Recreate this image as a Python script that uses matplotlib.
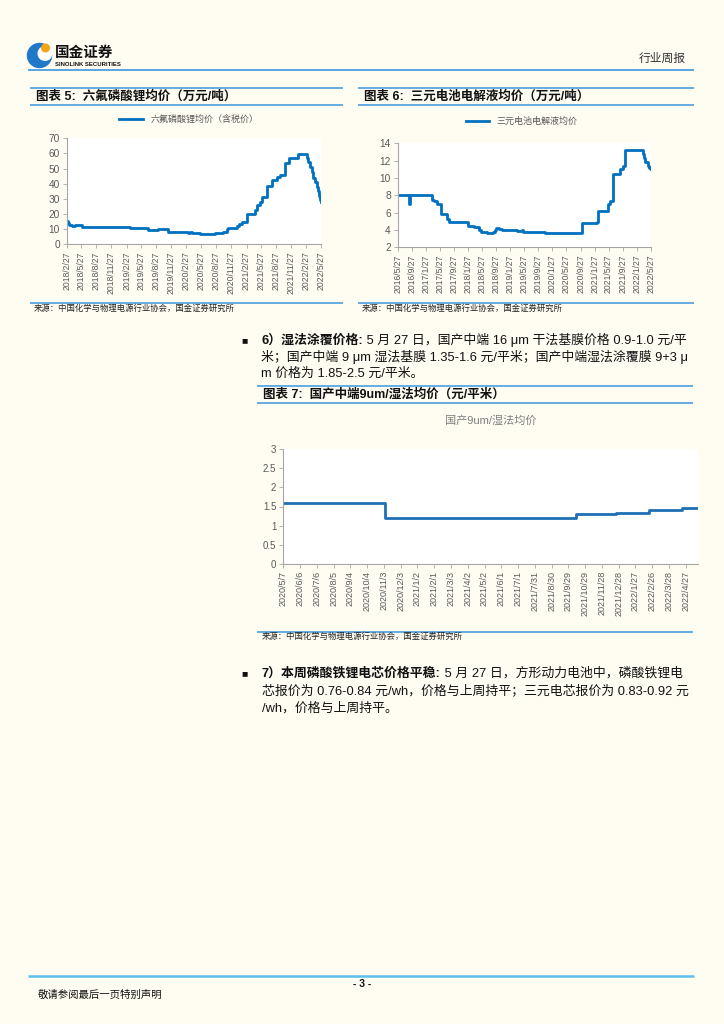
import matplotlib
matplotlib.use('Agg')
import matplotlib.pyplot as plt
from matplotlib.patches import Circle
import pandas as pd

plt.rcParams['font.family'] = ['Liberation Sans', 'Noto Sans CJK SC', 'DejaVu Sans']

BG = '#FFFCF2'
LINE_BLUE = '#0070C0'
RULE = '#4A9FE0'
GRAY = '#595959'
SPINE = '#A6A6A6'

# 图表5 六氟磷酸锂均价（万元/吨）
lipf6_dates = ['2018-02-27', '2018-03-08', '2018-03-15', '2018-03-29', '2018-04-19',
               '2018-05-29', '2019-03-20', '2019-07-09', '2019-09-08', '2019-11-08',
               '2020-03-09', '2020-03-20', '2020-04-01', '2020-05-19', '2020-08-19',
               '2020-10-08', '2020-10-29', '2020-11-08', '2020-12-29', '2021-01-15',
               '2021-01-29', '2021-03-04', '2021-04-20', '2021-05-04', '2021-05-20',
               '2021-05-31', '2021-06-30', '2021-07-30', '2021-08-30', '2021-09-19',
               '2021-10-20', '2021-11-15', '2022-01-09', '2022-03-01', '2022-03-11',
               '2022-03-21', '2022-04-01', '2022-04-10', '2022-04-20', '2022-05-01',
               '2022-05-08', '2022-05-15', '2022-05-21', '2022-05-27']
lipf6_price = [15.4, 14.0, 13.0, 12.0, 12.5,
               11.3, 10.6, 9.7, 10.2, 8.3,
               7.7, 8.3, 7.7, 7.0, 7.3,
               8.0, 10.3, 10.6, 12.1, 13.5,
               14.9, 19.8, 22.7, 26.0, 28.2,
               31.5, 38.7, 42.5, 44.3, 45.8,
               53.5, 56.8, 59.4, 57.0, 54.6,
               51.3, 47.5, 43.6, 41.0, 38.0,
               35.5, 32.0, 29.0, 28.0]
lipf6_ticks = ['2018/2/27', '2018/5/27', '2018/8/27', '2018/11/27', '2019/2/27',
               '2019/5/27', '2019/8/27', '2019/11/27', '2020/2/27', '2020/5/27',
               '2020/8/27', '2020/11/27', '2021/2/27', '2021/5/27', '2021/8/27',
               '2021/11/27', '2022/2/27', '2022/5/27']

# 图表6 三元电池电解液均价（万元/吨）
elec_dates = ['2016-05-27', '2016-09-01', '2016-09-07', '2017-03-24', '2017-04-10',
              '2017-04-30', '2017-06-06', '2017-07-25', '2017-08-17', '2018-01-29',
              '2018-03-22', '2018-05-01', '2018-05-19', '2018-07-07', '2018-08-28',
              '2018-09-15', '2018-09-28', '2018-10-20', '2018-11-14', '2019-03-24',
              '2019-05-06', '2019-05-20', '2019-11-24', '2020-10-06', '2021-02-13',
              '2021-02-25', '2021-05-25', '2021-06-10', '2021-07-02', '2021-09-03',
              '2021-09-25', '2021-10-16', '2022-03-19', '2022-03-28', '2022-04-08',
              '2022-05-01', '2022-05-15', '2022-05-27']
elec_price = [8.0, 7.0, 8.0, 7.5, 7.3,
              7.0, 5.8, 5.3, 4.9, 4.5,
              4.4, 4.0, 3.8, 3.7, 3.8,
              4.0, 4.2, 4.1, 3.95, 3.85,
              3.95, 3.8, 3.6, 4.8, 4.9,
              6.2, 7.0, 7.3, 10.5, 11.0,
              11.4, 13.2, 12.8, 12.3, 11.9,
              11.4, 11.1, 11.0]
elec_ticks = ['2016/5/27', '2016/9/27', '2017/1/27', '2017/5/27', '2017/9/27',
              '2018/1/27', '2018/5/27', '2018/9/27', '2019/1/27', '2019/5/27',
              '2019/9/27', '2020/1/27', '2020/5/27', '2020/9/27', '2021/1/27',
              '2021/5/27', '2021/9/27', '2022/1/27', '2022/5/27']

# 图表7 国产中端9um/湿法均价（元/平米）
sep_dates = ['2020-05-07', '2020-11-05', '2021-10-12', '2021-12-24', '2022-02-20',
             '2022-04-21', '2022-05-19']
sep_price = [1.6, 1.2, 1.3, 1.34, 1.41, 1.46, 1.46]
sep_ticks = ['2020/5/7', '2020/6/6', '2020/7/6', '2020/8/5', '2020/9/4', '2020/10/4',
             '2020/11/3', '2020/12/3', '2021/1/2', '2021/2/1', '2021/3/3', '2021/4/2',
             '2021/5/2', '2021/6/1', '2021/7/1', '2021/7/31', '2021/8/30', '2021/9/29',
             '2021/10/29', '2021/11/28', '2021/12/28', '2022/1/27', '2022/2/26',
             '2022/3/28', '2022/4/27']

W, H = 724, 1024
fig = plt.figure(figsize=(W / 100, H / 100), dpi=100, facecolor=BG)

# page layer in pixel coordinates
pg = fig.add_axes([0, 0, 1, 1])
pg.set_xlim(0, W)
pg.set_ylim(H, 0)
pg.axis('off')


def rule(x0, x1, y, lw=1.2, color=RULE):
    pg.plot([x0, x1], [y, y], color=color, lw=lw, solid_capstyle='butt')


def px_axes(left, top, right, bottom):
    return fig.add_axes([left / W, 1 - bottom / H, (right - left) / W, (bottom - top) / H])


def style_axes(ax, ylim, yticks, ylabels, tick_strs, xlim, xsize=6.2, ysize=7):
    ax.set_facecolor('white')
    for s in ['top', 'right']:
        ax.spines[s].set_visible(False)
    for s in ['left', 'bottom']:
        ax.spines[s].set_color(SPINE)
        ax.spines[s].set_linewidth(0.8)
    ax.set_ylim(*ylim)
    ax.set_yticks(yticks)
    ax.set_yticklabels(ylabels, fontsize=ysize, color=GRAY)
    tk = pd.to_datetime(tick_strs, format='%Y/%m/%d')
    ax.set_xticks(tk)
    ax.set_xticklabels(tick_strs, rotation=90, fontsize=xsize, color=GRAY,
                       ha='center', va='top')
    ax.set_xlim(pd.Timestamp(xlim[0]), pd.Timestamp(xlim[1]))
    ax.tick_params(axis='both', color=SPINE, length=3, width=0.6, pad=2)


# header
pg.add_patch(Circle((39.5, 55.5), 12, color='#1F78C8'))
pg.add_patch(Circle((45, 53.5), 6.8, color='white'))
pg.add_patch(Circle((45.5, 48), 3.8, color='#F2A516'))
pg.text(55, 52, '国金证券', fontsize=10.5, fontweight='bold', color='#111111',
        va='center', family=['Noto Sans CJK SC'])
pg.text(55, 64, 'SINOLINK SECURITIES', fontsize=4.3, fontweight='bold', color='#111111',
        va='center')
pg.text(686, 58, '行业周报', fontsize=8.5, color='#333333', ha='right', va='center',
        family=['Noto Sans CJK SC'])
rule(28, 694, 69.5, lw=1.3)

# chart titles
rule(30, 343, 88)
rule(30, 343, 105)
pg.text(36, 96.5, '图表 5:  六氟磷酸锂均价（万元/吨）', fontsize=9, fontweight='bold',
        va='center', color='#111111')
rule(358, 694, 88)
rule(358, 694, 105)
pg.text(364, 96.5, '图表 6:  三元电池电解液均价（万元/吨）', fontsize=9, fontweight='bold',
        va='center', color='#111111')

# chart 5
ax5 = px_axes(66.7, 138.3, 321, 244.3)
ax5.step(pd.to_datetime(lipf6_dates), lipf6_price, where='post', color=LINE_BLUE, lw=2,
         label='六氟磷酸锂均价（含税价）')
style_axes(ax5, (0, 70), range(0, 71, 10), [str(v) for v in range(0, 71, 10)],
           lipf6_ticks, ('2018-02-27', '2022-05-27'), ysize=7.3)
leg = ax5.legend(loc='lower center', bbox_to_anchor=(0.48, 1.1), frameon=False,
                 fontsize=6.5, handlelength=2.6, borderaxespad=0)
for t in leg.get_texts():
    t.set_color(GRAY)

# chart 6
ax6 = px_axes(397.7, 143.3, 650.7, 247.3)
ax6.step(pd.to_datetime(elec_dates), elec_price, where='post', color=LINE_BLUE, lw=2,
         label='三元电池电解液均价')
style_axes(ax6, (2, 14), range(2, 15, 2), [str(v) for v in range(2, 15, 2)],
           elec_ticks, ('2016-05-27', '2022-05-27'), ysize=7.3)
leg = ax6.legend(loc='lower center', bbox_to_anchor=(0.49, 1.13), frameon=False,
                 fontsize=6.5, handlelength=2.6, borderaxespad=0)
for t in leg.get_texts():
    t.set_color(GRAY)

# sources
src = '来源：中国化学与物理电源行业协会，国金证券研究所'
rule(30, 343, 303)
pg.text(34, 309, src, fontsize=6, color='#222222', va='center')
rule(358, 694, 303)
pg.text(362, 309, src, fontsize=6, color='#222222', va='center')

renderer = fig.canvas.get_renderer()


def para(x, y, bold, rest, size=9.3):
    xx = x
    if bold:
        t = pg.text(x, y, bold, fontsize=size, fontweight='bold', va='center',
                    color='#111111')
        xx = t.get_window_extent(renderer).x1
    if rest:
        pg.text(xx, y, rest, fontsize=size, va='center', color='#111111')


# paragraph 6
pg.text(241, 340, '■', fontsize=7.5, va='center', color='#111111')
para(261, 340, '6）湿法涂覆价格:', ' 5 月 27 日，国产中端 16 μm 干法基膜价格 0.9-1.0 元/平')
para(261, 357, '', '米；国产中端 9 μm 湿法基膜 1.35-1.6 元/平米；国产中端湿法涂覆膜 9+3 μ')
para(261, 374, '', 'm 价格为 1.85-2.5 元/平米。')

# chart 7
rule(257, 693, 386)
rule(257, 693, 403)
pg.text(263, 394.5, '图表 7:  国产中端9um/湿法均价（元/平米）', fontsize=9, fontweight='bold',
        va='center', color='#111111')
ax7 = px_axes(283.3, 449, 698, 564)
ax7.step(pd.to_datetime(sep_dates), sep_price, where='post', color='#1F6FB5', lw=2)
style_axes(ax7, (0, 3), [0, 0.5, 1, 1.5, 2, 2.5, 3], ['0', '0.5', '1', '1.5', '2', '2.5', '3'],
           sep_ticks, ('2020-05-07', '2022-05-19'), xsize=6.5)
ax7.set_title('国产9um/湿法均价', fontsize=8, color='#7F7F7F', pad=18)
rule(257, 693, 632)
pg.text(262, 637, src, fontsize=6, color='#222222', va='center')

# paragraph 7
pg.text(241, 673, '■', fontsize=7.5, va='center', color='#111111')
para(262, 673, '7）本周磷酸铁锂电芯价格平稳:', ' 5 月 27 日，方形动力电池中，磷酸铁锂电')
para(262, 691, '', '芯报价为 0.76-0.84 元/wh，价格与上周持平；三元电芯报价为 0.83-0.92 元')
para(262, 708, '', '/wh，价格与上周持平。')

# footer
rule(28, 694, 976, lw=1.8, color='#5BC0F0')
pg.text(362, 984, '- 3 -', fontsize=7.5, fontweight='bold', ha='center', va='center',
        color='#111111')
pg.text(38, 995, '敬请参阅最后一页特别声明', fontsize=7.5, va='center', color='#111111')

fig.savefig('out.png', dpi=100, facecolor=BG)
